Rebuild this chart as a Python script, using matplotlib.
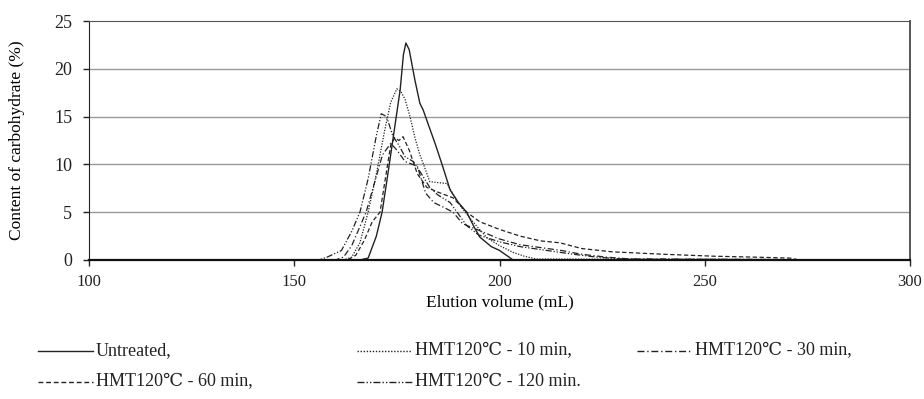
import matplotlib
matplotlib.use("Agg")
import matplotlib.pyplot as plt
from matplotlib.lines import Line2D

plt.rcParams['font.family'] = ['Liberation Serif', 'DejaVu Serif']

# Elution profiles (elution volume in mL, carbohydrate content in %)
untreated_x = [123, 166, 168, 170, 171.4, 172.6, 174, 175.8, 176.6, 177.2, 178, 179.4, 180.6,
               181.4, 182.8, 184.3, 186, 188, 190, 192, 194, 195.2, 198, 200, 202, 203.3, 300]
untreated_y = [0, 0, 0.2, 2.5, 5, 8.4, 12.5, 17.8, 21.5, 22.7, 22, 18.8, 16.4,
               15.7, 14, 12.2, 10, 7.3, 6, 5, 3.3, 2.4, 1.4, 1.0, 0.4, 0, 0]

min10_x = [123, 162, 164, 166, 168, 170, 172, 173.5, 175, 176, 177, 178.2, 179.4, 180.6,
           181.5, 183, 185, 187.2, 189.9, 192, 194.5, 197, 200, 203.3, 206, 209, 300]
min10_y = [0, 0, 0.3, 1.8, 5, 9, 13.5, 16.5, 17.9, 17.6, 16.8, 15, 12.8, 11,
           10, 8.2, 8.1, 8.0, 6.0, 4.8, 3.5, 2.3, 1.5, 0.8, 0.4, 0.1, 0]

min30_x = [123, 160, 162, 164, 165.5, 167.5, 169.5, 171.5, 173.5, 175, 177, 180, 182, 184,
           186, 188.7, 191, 195, 200, 205, 210, 215, 220, 226, 232, 300]
min30_y = [0, 0, 0.3, 1.5, 3, 5, 8, 11, 12.2, 11.5, 10.3, 9.8, 7.0, 6.0,
           5.6, 5.0, 3.8, 3.1, 2.2, 1.6, 1.3, 1.0, 0.6, 0.3, 0.1, 0]

min60_x = [123, 163, 165, 167, 169, 170.9, 172, 173.5, 174.5, 175.5, 176.5, 178, 180, 182.3,
           185, 188.7, 192, 195.2, 200, 205, 210, 214.7, 220, 227.6, 240, 252, 262, 270.8, 273, 300]
min60_y = [0, 0, 0.5, 2, 4, 5, 8, 12, 12.8, 12.5, 12.9, 11.5, 9.0, 7.6,
           7.1, 6.5, 5.0, 4.0, 3.2, 2.5, 2.0, 1.8, 1.2, 0.85, 0.6, 0.4, 0.3, 0.2, 0, 0]

min120_x = [123, 156, 158, 161.5, 164, 166, 168, 170, 171.2, 172.5, 174, 175.5, 177, 179, 181,
            183, 185, 188, 190, 192, 195, 200, 205, 211.5, 218, 223.7, 230, 300]
min120_y = [0, 0, 0.3, 1.0, 3, 5, 8.5, 13, 15.3, 15.0, 13.0, 12.0, 10.8, 10.3, 9.0,
            7.6, 6.8, 6.0, 4.8, 3.6, 2.6, 1.9, 1.4, 1.0, 0.6, 0.3, 0.1, 0]

labels = ['Untreated,', 'HMT120\u2103 - 10 min,', 'HMT120\u2103 - 30 min,',
          'HMT120\u2103 - 60 min,', 'HMT120\u2103 - 120 min.']

fig = plt.figure(figsize=(9.24, 3.99), dpi=100)
ax = fig.add_axes([89 / 924, 1 - 260 / 399, (910 - 89) / 924, (260 - 21) / 399])

lw = 0.9
ax.plot(untreated_x, untreated_y, color='#222222', linestyle='-', linewidth=1.0)
ax.plot(min10_x, min10_y, color='#222222', linestyle=(0, (1, 1.2)), linewidth=lw)
ax.plot(min30_x, min30_y, color='#222222', linestyle=(0, (5, 2, 1, 2)), linewidth=lw)
ax.plot(min60_x, min60_y, color='#222222', linestyle=(0, (3.5, 2)), linewidth=lw)
ax.plot(min120_x, min120_y, color='#222222', linestyle=(0, (5, 1.5, 1, 1.5, 1, 1.5)), linewidth=lw)

ax.set_xlim(100, 300)
ax.set_ylim(0, 25)
ax.set_xticks([100, 150, 200, 250, 300])
ax.set_yticks([0, 5, 10, 15, 20, 25])
for yv in [5, 10, 15, 20]:
    ax.axhline(yv, color='#999999', linewidth=1.0, zorder=0)

ax.spines['left'].set_color('#222222')
ax.spines['bottom'].set_color('#111111')
ax.spines['bottom'].set_linewidth(1.6)
ax.spines['top'].set_color('#555555')
ax.spines['right'].set_color('#555555')
ax.spines['right'].set_linewidth(1.4)
ax.tick_params(axis='both', direction='out', length=4, width=1, colors='#222222', labelsize=13)
ax.tick_params(axis='x', pad=6, labelsize=12)
ax.tick_params(axis='y', pad=8)

ax.set_xlabel('Elution volume (mL)', fontsize=12.5, labelpad=3)
ax.set_ylabel('Content of carbohydrate (%)', fontsize=12.5)
ax.yaxis.set_label_coords(-0.078, 0.5)

styles = ['-', (0, (1, 1.2)), (0, (5, 2, 1, 2)), (0, (3.5, 2)), (0, (5, 1.5, 1, 1.5, 1, 1.5))]
positions = [(38, 351), (357, 351), (637, 351), (38, 382), (357, 382)]
for lab, ls, (px, py) in zip(labels, styles, positions):
    fy = 1 - py / 399
    fig.add_artist(Line2D([px / 924, (px + 55) / 924], [fy, fy], transform=fig.transFigure,
                          color='#222222', linestyle=ls, linewidth=1.0))
    fig.text((px + 58) / 924, fy, lab, fontsize=13, va='center', ha='left', color='#222222')

fig.savefig('out.png', dpi=100)
